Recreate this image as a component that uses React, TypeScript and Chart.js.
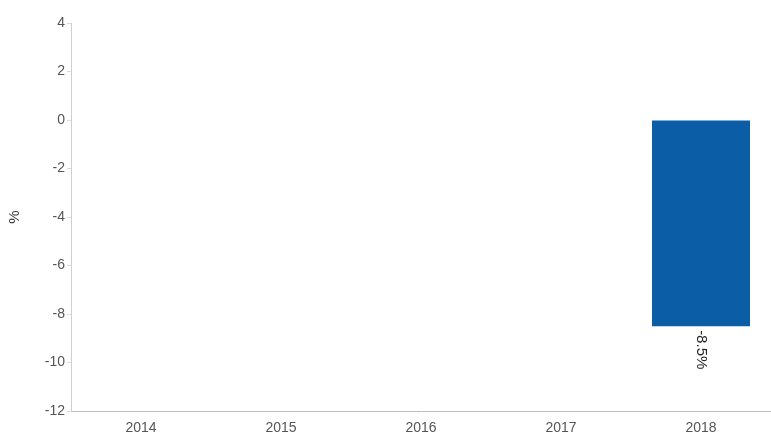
import React, { useEffect, useRef } from "react";
import { Chart, registerables } from "chart.js";

Chart.register(...registerables);

const categories = ["2014", "2015", "2016", "2017", "2018"];
const values: (number | null)[] = [null, null, null, null, -8.5];
const labels: (string | null)[] = [null, null, null, null, "-8.5%"];
const yTitle = "%";

const valueLabelPlugin = {
  id: "valueLabels",
  afterDatasetsDraw(chart: any) {
    const ctx = chart.ctx;
    const meta = chart.getDatasetMeta(0);
    meta.data.forEach((el: any, i: number) => {
      const txt = labels[i];
      if (!txt || values[i] == null) return;
      ctx.save();
      ctx.translate(el.x, el.y + 4);
      ctx.rotate(Math.PI / 2);
      ctx.font = "15px 'Liberation Sans', Arial, sans-serif";
      ctx.fillStyle = "#222";
      ctx.textAlign = "left";
      ctx.textBaseline = "middle";
      ctx.fillText(txt, 0, 0);
      ctx.restore();
    });
  },
};

export default function App() {
  const ref = useRef<HTMLCanvasElement>(null);
  useEffect(() => {
    document.body.style.margin = "0";
    const chart = new Chart(ref.current!, {
      type: "bar",
      data: {
        labels: categories,
        datasets: [
          {
            data: values,
            backgroundColor: "#0b5ea6",
            borderWidth: 0,
            barPercentage: 0.7,
            categoryPercentage: 1,
          },
        ],
      },
      options: {
        animation: false,
        responsive: false,
        maintainAspectRatio: false,
        layout: { padding: { top: 23, right: 0, left: 0, bottom: 0 } },
        plugins: { legend: { display: false }, tooltip: { enabled: false } },
        scales: {
          x: {
            afterFit: (s: any) => {
              s.height = 28;
            },
            grid: { display: false, drawTicks: false },
            border: { color: "#bdbdbd" },
            ticks: {
              color: "#555",
              font: { family: "'Liberation Sans', Arial, sans-serif", size: 14 },
              padding: 9,
            },
          },
          y: {
            min: -12,
            max: 4,
            afterFit: (s: any) => {
              s.width = 71;
            },
            grid: { drawOnChartArea: false, tickLength: 4, color: "#dcdcdc" },
            border: { color: "#cfcfcf" },
            ticks: {
              stepSize: 2,
              color: "#555",
              font: { family: "'Liberation Sans', Arial, sans-serif", size: 14 },
              padding: 2,
            },
            title: {
              display: true,
              text: yTitle,
              color: "#333",
              font: { family: "'Liberation Sans', Arial, sans-serif", size: 15 },
              padding: { top: 6, bottom: 0 },
            },
          },
        },
      },
      plugins: [valueLabelPlugin],
    });
    return () => chart.destroy();
  }, []);
  return (
    <div style={{ width: 771, height: 439 }}>
      <canvas ref={ref} width={771} height={439} style={{ display: "block" }} />
    </div>
  );
}
